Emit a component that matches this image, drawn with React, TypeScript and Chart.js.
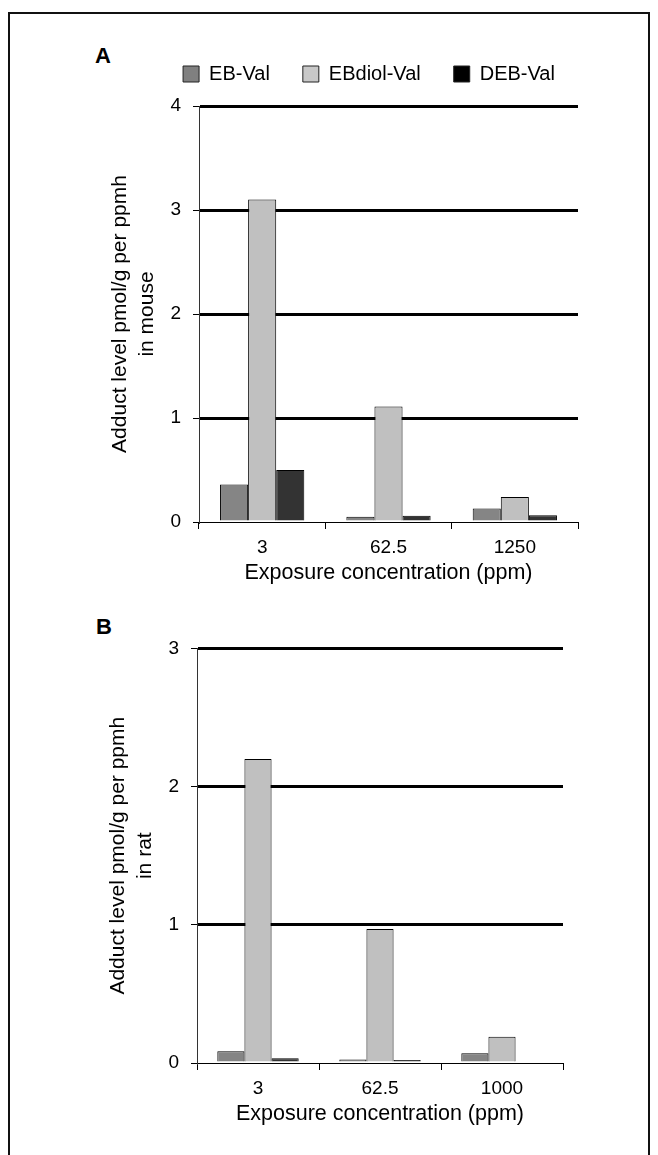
import React, { useEffect, useRef } from 'react';
import { Chart, registerables } from 'chart.js';

Chart.register(...registerables);

// ---------- data ----------
const seriesNames = ['EB-Val', 'EBdiol-Val', 'DEB-Val'];

const mouseCategories = ['3', '62.5', '1250'];
const mouseEB = [0.36, 0.05, 0.13];
const mouseEBdiol = [3.1, 1.11, 0.24];
const mouseDEB = [0.5, 0.06, 0.065];
const mouseYTicks = [0, 1, 2, 3, 4];

const ratCategories = ['3', '62.5', '1000'];
const ratEB = [0.085, 0.025, 0.07];
const ratEBdiol = [2.2, 0.97, 0.19];
const ratDEB = [0.035, 0.022, null];
const ratYTicks = [0, 1, 2, 3];

const xTitle = 'Exposure concentration (ppm)';
const mouseYTitle = ['Adduct level pmol/g per ppmh', 'in mouse'];
const ratYTitle = ['Adduct level pmol/g per ppmh', 'in rat'];

// ---------- styles ----------
const FONT = "'Liberation Sans', Arial, Helvetica, sans-serif";
const barColors = ['#858585', '#c0c0c0', '#333333'];
const legendColors = ['#808080', '#c8c8c8', '#000000'];

type Cfg = {
  categories: string[];
  series: (number | null)[][];
  yTicks: number[];
  yTitle: string[];
  legend: boolean;
  yWidth: number;
  yTitlePad: number;
  rightWidth: number;
  padTop: number;
  legendExtra: number;
};

function buildConfig(c: Cfg): any {
  const plugins: any[] = [];
  if (c.legend) {
    plugins.push({
      id: 'legendSpacer',
      afterInit(chart: any) {
        const l = chart.legend;
        if (!l) return;
        const orig = l.fit;
        l.fit = function () {
          orig.call(this);
          this.height += c.legendExtra;
        };
      },
    });
  }
  return {
    type: 'bar',
    data: {
      labels: c.categories,
      datasets: c.series.map((d, i) => ({
        label: seriesNames[i],
        data: d,
        backgroundColor: barColors[i],
        borderColor: '#000',
        borderWidth: 1,
        categoryPercentage: 0.667,
        barPercentage: 1,
        xAxisID: 'x',
        yAxisID: 'y',
      })),
    },
    plugins,
    options: {
      responsive: false,
      maintainAspectRatio: false,
      animation: false,
      devicePixelRatio: 1,
      layout: { padding: { top: c.padTop, left: 0, right: 0, bottom: 0 } },
      plugins: {
        tooltip: { enabled: false },
        title: { display: false },
        legend: {
          display: c.legend,
          position: 'top',
          align: 'center',
          labels: {
            boxWidth: 16,
            boxHeight: 16,
            padding: 33,
            color: '#000',
            font: { family: FONT, size: 20 },
            generateLabels: (chart: any) => {
              const items = Chart.defaults.plugins.legend.labels.generateLabels(chart);
              return items.map((it: any, i: number) => ({
                ...it,
                fillStyle: legendColors[i],
                strokeStyle: '#222',
                lineWidth: 1,
              }));
            },
          },
        },
      },
      scales: {
        x: {
          type: 'category',
          position: 'bottom',
          offset: true,
          grid: {
            display: true,
            drawOnChartArea: false,
            offset: true,
            color: '#000',
            lineWidth: 1,
            tickLength: 7,
          },
          border: { display: true, color: '#000', width: 1 },
          ticks: {
            color: '#000',
            font: { family: FONT, size: 19 },
            padding: 7,
            maxRotation: 0,
            autoSkip: false,
          },
          title: {
            display: true,
            text: xTitle,
            color: '#000',
            font: { family: FONT, size: 21.5, lineHeight: 1.2 },
            padding: { top: 0, bottom: 6 },
          },
          afterFit: (s: any) => {
            s.height = 70;
          },
        },
        y: {
          type: 'linear',
          position: 'left',
          min: c.yTicks[0],
          max: c.yTicks[c.yTicks.length - 1],
          afterBuildTicks: (s: any) => {
            s.ticks = c.yTicks.map((v) => ({ value: v }));
          },
          grid: {
            color: (ctx: any) => (ctx.tick && ctx.tick.value === 0 ? 'rgba(0,0,0,0)' : '#000'),
            lineWidth: 3,
            drawTicks: true,
            tickColor: '#000',
            tickWidth: 1,
            tickLength: 6,
          },
          border: { display: true, color: '#333', width: 1 },
          ticks: {
            color: '#000',
            font: { family: FONT, size: 19 },
            padding: 12,
          },
          title: {
            display: true,
            text: c.yTitle,
            color: '#000',
            font: { family: FONT, size: 21, lineHeight: 27 / 21 },
            padding: { top: c.yTitlePad, bottom: 0 },
          },
          afterFit: (s: any) => {
            s.width = c.yWidth;
          },
        },
        ySpacer: {
          type: 'linear',
          position: 'right',
          display: true,
          grid: { display: false },
          border: { display: false },
          ticks: { display: false },
          afterFit: (s: any) => {
            s.width = c.rightWidth;
          },
        },
      },
    },
  };
}

function ChartCanvas(props: { cfg: Cfg; left: number; top: number; width: number; height: number }) {
  const ref = useRef<HTMLCanvasElement | null>(null);
  useEffect(() => {
    if (!ref.current) return;
    const chart = new Chart(ref.current, buildConfig(props.cfg));
    return () => chart.destroy();
  }, []);
  return (
    <canvas
      ref={ref}
      width={props.width}
      height={props.height}
      style={{
        position: 'absolute',
        left: props.left,
        top: props.top,
        width: props.width,
        height: props.height,
      }}
    />
  );
}

const panelLabel: React.CSSProperties = {
  position: 'absolute',
  fontFamily: FONT,
  fontWeight: 'bold',
  fontSize: 22,
  lineHeight: '22px',
  color: '#000',
};

export default function App() {
  const mouseCfg: Cfg = {
    categories: mouseCategories,
    series: [mouseEB, mouseEBdiol, mouseDEB],
    yTicks: mouseYTicks,
    yTitle: mouseYTitle,
    legend: true,
    yWidth: 104,
    yTitlePad: 11.5,
    rightWidth: 65,
    padTop: 0,
    legendExtra: 12,
  };
  const ratCfg: Cfg = {
    categories: ratCategories,
    series: [ratEB, ratEBdiol, ratDEB as any],
    yTicks: ratYTicks,
    yTitle: ratYTitle,
    legend: false,
    yWidth: 102,
    yTitlePad: 9.5,
    rightWidth: 12,
    padTop: 20,
    legendExtra: 0,
  };
  return (
    <div
      style={{
        position: 'absolute',
        left: 0,
        top: 0,
        width: 658,
        height: 1155,
        overflow: 'hidden',
        background: '#fff',
      }}
    >
      <div
        style={{
          position: 'absolute',
          left: 8,
          top: 12,
          width: 642,
          height: 1200,
          boxSizing: 'border-box',
          border: '2px solid #111',
        }}
      />
      <div style={{ ...panelLabel, left: 95, top: 45 }}>A</div>
      <div style={{ ...panelLabel, left: 96, top: 616 }}>B</div>
      <ChartCanvas cfg={mouseCfg} left={95} top={31} width={548} height={561} />
      <ChartCanvas cfg={ratCfg} left={95} top={625} width={480} height={508} />
    </div>
  );
}
